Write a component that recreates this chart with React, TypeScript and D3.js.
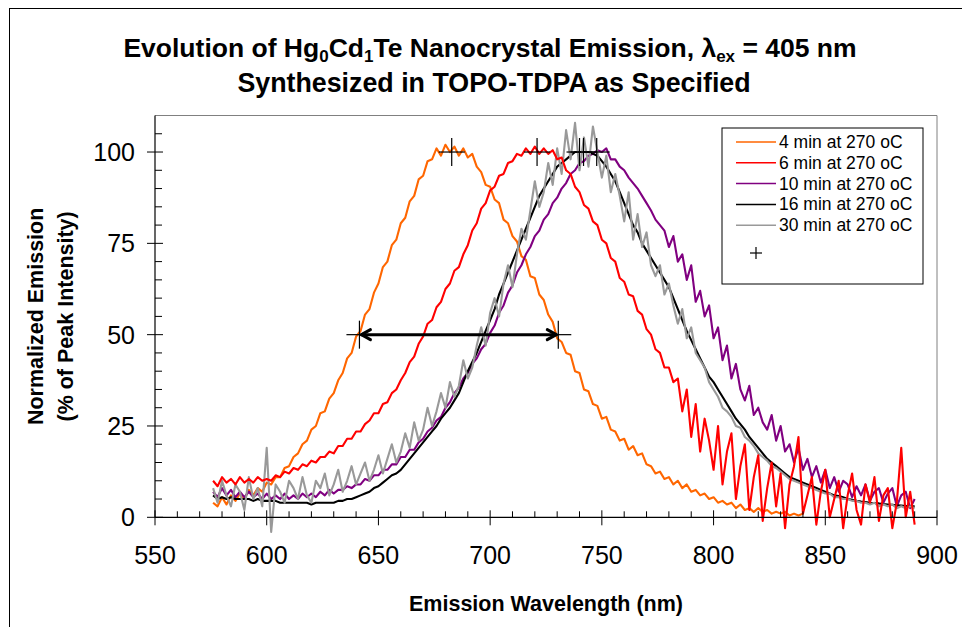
import React from "react";
import * as d3 from "d3";

// Emission wavelength grid (nm)
const wavelengths = [
  576, 578, 580, 582, 584, 586, 588, 590, 592, 594,
  596, 598, 600, 602, 604, 606, 608, 610, 612, 614,
  616, 618, 620, 622, 624, 626, 628, 630, 632, 634,
  636, 638, 640, 642, 644, 646, 648, 650, 652, 654,
  656, 658, 660, 662, 664, 666, 668, 670, 672, 674,
  676, 678, 680, 682, 684, 686, 688, 690, 692, 694,
  696, 698, 700, 702, 704, 706, 708, 710, 712, 714,
  716, 718, 720, 722, 724, 726, 728, 730, 732, 734,
  736, 738, 740, 742, 744, 746, 748, 750, 752, 754,
  756, 758, 760, 762, 764, 766, 768, 770, 772, 774,
  776, 778, 780, 782, 784, 786, 788, 790, 792, 794,
  796, 798, 800, 802, 804, 806, 808, 810, 812, 814,
  816, 818, 820, 822, 824, 826, 828, 830, 832, 834,
  836, 838, 840, 842, 844, 846, 848, 850, 852, 854,
  856, 858, 860, 862, 864, 866, 868, 870, 872, 874,
  876, 878, 880, 882, 884, 886, 888, 890,
];

// 4 min at 270 oC
const em4min: (number | null)[] = [
  4, 3, 5.5, 3.5, 6, 4.5, 6.5, 5, 7.5, 6,
  8, 7, 9.5, 9, 11, 11, 13.5, 14, 16.5, 17.5,
  20, 21, 24, 25, 28.5, 29, 32.5, 34, 37.5, 39.5,
  43.5, 45, 49.5, 51, 55.5, 57, 61.5, 64, 68.5, 70,
  74.5, 76, 80.5, 82, 86.5, 88, 92.5, 93.5, 97.5, 98,
  101, 99, 102, 100, 101.5, 99, 101, 98.5, 99.5, 96,
  94.5, 91, 90.5, 87, 86, 81.5, 80.5, 77, 75.5, 71.5,
  70.5, 66, 65.5, 61, 59.5, 55.5, 53.5, 49, 48, 45,
  44.5, 40, 39.5, 35, 34.5, 31, 30.5, 27, 27.5, 24,
  23.5, 21, 21.5, 18.5, 19.5, 17, 17.5, 14.5, 14, 12,
  12.5, 10.5, 11, 9, 10, 8, 9, 7, 7.5, 6,
  6.5, 5, 5.5, 4, 4.5, 3.5, 4, 2.5, 3.5, 2,
  2.5, 1.5, 2.5, 1.5, 2, 1, 1.5, 1, 1.5, 0.5,
  1, 0.5, 1, null, null, null, null, null, null, null,
  null, null, null, null, null, null, null, null, null, null,
  null, null, null, null, null, null, null, null,
];

// 6 min at 270 oC
const em6min: (number | null)[] = [
  10, 8.5, 11, 9.5, 10.5, 9, 11, 9.5, 10.5, 9.5,
  11, 10, 10.5, 10, 11.5, 11, 12.5, 12, 13.5, 13,
  14.5, 14, 15.5, 15, 16.5, 16.5, 18, 17.5, 19.5, 19.5,
  21.5, 21.5, 23.5, 23.5, 25.5, 26.5, 28.5, 28.5, 31, 31.5,
  34, 35, 37.5, 39.5, 42.5, 44, 47.5, 49.5, 53, 54,
  57.5, 59, 62.5, 64, 67.5, 68.5, 72, 74.5, 78.5, 80.5,
  84.5, 86, 89.5, 90.5, 93.5, 94, 97, 97.5, 99.5, 99,
  101, 99.5, 101.5, 99.5, 101, 99.5, 100.5, 98, 98.5, 95,
  94, 90.5, 89, 85.5, 84.5, 81, 80, 76, 75, 71,
  70, 65.5, 64.5, 61, 60.5, 56.5, 55.5, 51.5, 50, 46,
  45, 41, 41, 37, 38, 29, 35, 22, 31, 18,
  27, 21, 13, 25, 9, 18, 23, 5, 14, 20,
  2, 11, 17, -1, 8, 15, 3, 12, -3, 9,
  14, 22, 1, 6, 11, -2, 7, 13, 0, 5,
  10, -3, 6, 12, 2, -2, 9, 4, 11, -1,
  6, 8, -3, 4, 19, 0, 7, -2,
];

// 10 min at 270 oC
const em10min: (number | null)[] = [
  7, 5.5, 8, 6, 7.5, 5.5, 7, 5.5, 7, 5.5,
  6.5, 5, 6.5, 5, 6, 5, 6.5, 5, 6, 5,
  6.5, 5.5, 6.5, 5.5, 7, 6, 7.5, 6.5, 7.5, 7.5,
  8.5, 8, 9, 9, 10.5, 10, 11.5, 11.5, 13, 13,
  14.5, 14.5, 16.5, 16.5, 18.5, 18.5, 20.5, 21.5, 23.5, 24.5,
  26.5, 27.5, 30, 31.5, 34, 35.5, 38, 39.5, 42, 43.5,
  46, 47.5, 50.5, 52.5, 56, 58, 61.5, 63.5, 67, 69,
  72, 74, 77, 78.5, 81.5, 83, 86, 87.5, 90, 91.5,
  94, 95, 97, 97.5, 99, 99.5, 100.5, 100, 101, 98,
  98, 96, 95, 93, 91.5, 90, 88, 86, 84, 81.5,
  80, 78.5, 74, 77, 70, 72, 65, 69, 59, 62,
  55, 58, 49, 52, 43, 47, 38, 42, 35, 32,
  36, 28, 30, 26, 24, 28, 21, 25, 18, 20,
  15, 19, 13, 16, 11, 14, 9.5, 13, 8, 11,
  7, 10, 9, 5.5, 8.5, 6, 9, 4.5, 7, 8,
  4, 6.5, 8, 3, 6, 7, 2.5, 5,
];

// 16 min at 270 oC
const em16min: (number | null)[] = [
  6, 5, 5.5, 5, 5.5, 5, 5, 5, 5, 4.5,
  5, 4.5, 4.5, 4.5, 4.5, 4, 4, 4, 4, 4,
  4, 4, 3.5, 4, 4, 4, 4, 4, 4.5, 4.5,
  5, 5, 5.5, 6, 6.5, 7, 8, 8.5, 9.5, 10.5,
  11.5, 12, 13, 14.5, 16, 17.5, 19, 20.5, 22, 23.5,
  25, 27, 28.5, 30, 32, 34, 37, 40, 42.5, 45,
  48, 51, 54, 57, 61, 64, 67, 70, 73, 76,
  79, 82, 85, 88, 90, 92, 94, 96, 97, 98,
  99, 100, 100, 100, 100, 99.5, 99, 97.5, 96, 94,
  92, 89, 86, 83, 80, 78, 75, 73, 71, 69,
  67, 65, 63, 60, 57, 54, 51, 48.5, 46, 43.5,
  41, 38.5, 37, 35, 33, 31, 29, 27, 25.5, 24,
  22, 20.5, 19, 17.5, 16, 15, 14, 13, 12, 11,
  10.5, 10, 9.5, 9, 8.5, 8, 7.5, 7, 6.5, 6,
  5.8, 5.5, 5, 4.8, 4.5, 4.3, 4.2, 4, 3.9, 3.8,
  3.6, 3.5, 3.4, 3.3, 3.2, 3.1, 3, 3,
];

// 30 min at 270 oC
const em30min: (number | null)[] = [
  8, 4, 10, 6, 3, 9, 7, 2, 11, 5,
  8, 3, 19, -4, 9, 7, 4, 10, 8, 5,
  11, 6, 4, 10, 8, 12, 6, 9, 13, 7,
  10, 14, 9, 12, 15, 10, 13, 17, 12, 16,
  20, 15, 18, 23, 19, 26, 21, 24, 30, 25,
  29, 34, 30, 37, 33, 36, 43, 38, 41, 47,
  52, 47, 56, 60, 55, 64, 69, 63, 72, 79,
  76, 84, 92, 85, 89, 97, 91, 101, 94, 106,
  98, 108, 95, 104, 96, 107, 100, 93, 99, 89,
  94, 88, 81, 89, 76, 83, 74, 78, 69, 66,
  69, 61, 64, 58, 53, 57, 49, 52, 45, 43,
  41, 37, 35, 33, 30, 29, 27.5, 25, 24.5, 22,
  21, 19.5, 17.5, 16.5, 15.5, 14, 13.5, 12.5, 11.5, 10.5,
  10, 9.5, 9, 8.5, 8, 7.5, 7, 6.5, 6.5, 5.5,
  5.5, 5, 5, 4.5, 4.5, 4, 4, 3.5, 4, 3,
  3.5, 3, 3.5, 2.5, 3, 2.5, 3, 2.5,
];

const seriesNames = [
  "4 min at 270 oC",
  "6 min at 270 oC",
  "10 min at 270 oC",
  "16 min at 270 oC",
  "30 min at 270 oC",
];
const seriesValues = [em4min, em6min, em10min, em16min, em30min];
const seriesColors = ["#FF6600", "#FF0000", "#800080", "#000000", "#999999"];
const drawOrder = [0, 2, 3, 4, 1];

// "+" marker series: FWHM points and peak positions
const markerWl = [641.5, 730.5, 682.8, 721, 740, 741.8, 747.7];
const markerPct = [50, 50, 100, 100, 100, 100, 100];

// FWHM arrow of the 4 min sample
const fwhmFrom = 641.5;
const fwhmTo = 730.5;
const fwhmLevel = 50;

const xTicks = [550, 600, 650, 700, 750, 800, 850, 900];
const yTicks = [0, 25, 50, 75, 100];

const FONT = "'Liberation Sans', Arial, sans-serif";

export default function App() {
  const W = 962;
  const H = 627;
  const x = d3.scaleLinear().domain([550, 900]).range([155, 937]);
  const y = d3.scaleLinear().domain([0, 110]).range([517.3, 115.5]);

  const line = d3
    .line<number | null>()
    .defined((d) => d !== null)
    .x((_d, i) => x(wavelengths[i]))
    .y((d) => y(d as number));

  const xMinor = d3.range(560, 900, 10).filter((v) => v % 50 !== 0);
  const yMinor = d3.range(5, 110, 5).filter((v) => v % 25 !== 0);

  const x0 = x(550);
  const yBase = y(0);

  const ax1 = x(fwhmFrom);
  const ax2 = x(fwhmTo);
  const ay = y(fwhmLevel);

  const legX = 722;
  const legY = 128;

  return (
    <svg
      width={W}
      height={H}
      style={{ position: "absolute", left: 0, top: 0, background: "#fff" }}
      fontFamily={FONT}
    >
      <rect x={0} y={0} width={W} height={H} fill="#fff" />
      <rect x={9.5} y={8.5} width={1000} height={700} fill="none" stroke="#000" strokeWidth={1} />

      {/* Title */}
      <text x={490} y={57} textAnchor="middle" fontWeight="bold" fontSize={26.5} fill="#000">
        Evolution of Hg
        <tspan dy={5} fontSize={17}>0</tspan>
        <tspan dy={-5}>Cd</tspan>
        <tspan dy={5} fontSize={17}>1</tspan>
        <tspan dy={-5}>Te Nanocrystal Emission, λ</tspan>
        <tspan dy={5} fontSize={17}>ex</tspan>
        <tspan dy={-5}> = 405 nm</tspan>
      </text>
      <text x={494} y={92} textAnchor="middle" fontWeight="bold" fontSize={26.8} fill="#000">
        Synthesized in TOPO-TDPA as Specified
      </text>

      {/* plot frame */}
      <line x1={x0} x2={x(900)} y1={y(110)} y2={y(110)} stroke="#808080" strokeWidth={1} />
      <line x1={x(900)} x2={x(900)} y1={y(110)} y2={yBase} stroke="#808080" strokeWidth={1} />

      {/* series */}
      {drawOrder.map((si) => (
        <path
          key={si}
          d={line(seriesValues[si]) || ""}
          fill="none"
          stroke={seriesColors[si]}
          strokeWidth={2.1}
          strokeLinejoin="round"
        />
      ))}

      {/* FWHM arrow */}
      <g stroke="#000" strokeWidth={3} fill="none" strokeLinecap="round" strokeLinejoin="round">
        <line x1={ax1 + 2} x2={ax2 - 2} y1={ay} y2={ay} />
        <polyline points={`${ax1 + 11},${ay - 5} ${ax1 + 2},${ay} ${ax1 + 11},${ay + 5}`} />
        <polyline points={`${ax2 - 11},${ay - 5} ${ax2 - 2},${ay} ${ax2 - 11},${ay + 5}`} />
      </g>

      {/* + markers */}
      {markerWl.map((w, i) => (
        <g key={i} stroke="#000" strokeWidth={1.2}>
          <line x1={x(w) - 13} x2={x(w) + 13} y1={y(markerPct[i])} y2={y(markerPct[i])} />
          <line x1={x(w)} x2={x(w)} y1={y(markerPct[i]) - 14} y2={y(markerPct[i]) + 14} />
        </g>
      ))}

      {/* Y axis */}
      <line x1={x0} x2={x0} y1={y(110)} y2={yBase} stroke="#000" strokeWidth={1.2} />
      {yMinor.map((v) => (
        <line key={v} x1={x0} x2={x0 + 7} y1={y(v)} y2={y(v)} stroke="#000" strokeWidth={1} />
      ))}
      {yTicks.map((v) => (
        <g key={v}>
          <line x1={x0 - 8} x2={x0 + 8} y1={y(v)} y2={y(v)} stroke="#000" strokeWidth={1} />
          <text x={x0 - 20} y={y(v) + 9} textAnchor="end" fontSize={25} fill="#000">
            {v}
          </text>
        </g>
      ))}

      {/* X axis */}
      <line x1={x0} x2={x(900)} y1={yBase} y2={yBase} stroke="#000" strokeWidth={1.2} />
      {xMinor.map((v) => (
        <line key={v} x1={x(v)} x2={x(v)} y1={yBase - 6} y2={yBase} stroke="#000" strokeWidth={1} />
      ))}
      {xTicks.map((v) => (
        <g key={v}>
          <line x1={x(v)} x2={x(v)} y1={yBase - 7} y2={yBase + 8} stroke="#000" strokeWidth={1} />
          <text x={x(v)} y={yBase + 47} textAnchor="middle" fontSize={25} fill="#000">
            {v}
          </text>
        </g>
      ))}

      {/* axis titles */}
      <text x={(x0 + x(900)) / 2} y={611} textAnchor="middle" fontWeight="bold" fontSize={21.5} fill="#000">
        Emission Wavelength (nm)
      </text>
      <text
        transform={`translate(43, ${(y(110) + yBase) / 2}) rotate(-90)`}
        textAnchor="middle"
        fontWeight="bold"
        fontSize={21.5}
        fill="#000"
      >
        Normalized Emission
      </text>
      <text
        transform={`translate(73, ${(y(110) + yBase) / 2}) rotate(-90)`}
        textAnchor="middle"
        fontWeight="bold"
        fontSize={21.5}
        fill="#000"
      >
        (% of Peak Intensity)
      </text>

      {/* Legend */}
      <rect x={legX} y={legY} width={201} height={156} fill="#fff" stroke="#000" strokeWidth={1} />
      {seriesNames.map((n, i) => (
        <g key={n}>
          <line
            x1={legX + 14}
            x2={legX + 54}
            y1={legY + 14 + i * 20.8}
            y2={legY + 14 + i * 20.8}
            stroke={seriesColors[i]}
            strokeWidth={1.5}
          />
          <text x={legX + 57} y={legY + 14 + i * 20.8 + 6} fontSize={17.5} fill="#000">
            {n}
          </text>
        </g>
      ))}
      <g stroke="#000" strokeWidth={1.2}>
        <line x1={legX + 28} x2={legX + 40} y1={legY + 125} y2={legY + 125} />
        <line x1={legX + 34} x2={legX + 34} y1={legY + 119} y2={legY + 131} />
      </g>
    </svg>
  );
}
